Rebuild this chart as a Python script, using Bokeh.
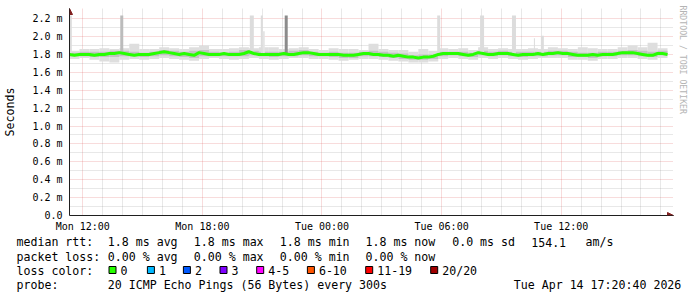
import numpy as np
from bokeh.plotting import figure
from bokeh.models import (Range1d, FixedTicker, CustomJSTickFormatter, Title,
                          Arrow, NormalHead)
from bokeh.embed import file_html
from bokeh.resources import INLINE
from bokeh.core.properties import value

MONO = "DejaVu Sans Mono"

# ---------------- data ----------------
# hours counted from Mon 00:00
start_hour = 11 + 20 / 60      # Mon 11:20
end_hour = 41 + 20 / 60        # Tue 17:20
y_top = 2.235                  # upper limit of the graph area (ms)

x_ticks = [12, 18, 24, 30, 36]
x_labels = ["Mon 12:00", "Mon 18:00", "Tue 00:00", "Tue 06:00", "Tue 12:00"]
x_minor = [13, 14, 15, 16, 17, 19, 20, 21, 22, 23, 25, 26, 27, 28, 29,
           31, 32, 33, 34, 35, 37, 38, 39, 40, 41]
y_ticks = [0.0, 0.2, 0.4, 0.6, 0.8, 1.0, 1.2, 1.4, 1.6, 1.8, 2.0, 2.2]
y_minor = [0.1, 0.3, 0.5, 0.7, 0.9, 1.1, 1.3, 1.5, 1.7, 1.9, 2.1]

# median rtt (ms), one sample every 15 minutes
median_ms = [
    1.80, 1.79, 1.80, 1.80, 1.80, 1.79, 1.80, 1.80, 1.81,
    1.81, 1.82, 1.81,
    1.80, 1.79, 1.80, 1.80, 1.80, 1.81,
    1.82, 1.83, 1.82,
    1.81, 1.80, 1.81, 1.80,
    1.79,
    1.82, 1.81, 1.80,
    1.80, 1.80, 1.81, 1.80, 1.80, 1.80, 1.81,
    1.83,
    1.81, 1.80, 1.80, 1.80, 1.80, 1.80, 1.81, 1.80, 1.80, 1.81,
    1.82, 1.82,
    1.81, 1.80, 1.80, 1.80, 1.80, 1.80,
    1.79, 1.79, 1.79, 1.80,
    1.81, 1.81, 1.80, 1.80,
    1.79, 1.79, 1.78, 1.79, 1.78,
    1.77, 1.77, 1.76, 1.77, 1.77, 1.78,
    1.80, 1.81, 1.81, 1.81, 1.81,
    1.80, 1.79, 1.80,
    1.82,
    1.81, 1.80, 1.80,
    1.81, 1.81, 1.81,
    1.80, 1.79, 1.80, 1.80, 1.80, 1.81, 1.80,
    1.81, 1.81, 1.82, 1.81, 1.81,
    1.80, 1.79, 1.79, 1.79, 1.80, 1.79,
    1.80, 1.80, 1.80,
    1.81, 1.82, 1.82, 1.82, 1.81,
    1.80, 1.79, 1.79,
    1.81, 1.81, 1.80,
]

# smoke (ping spread, ms), one value per 30 minutes
smoke_max = [1.84, 1.86, 1.86, 1.87, 1.86, 1.87, 1.92, 1.86, 1.86, 1.88,
             1.87, 1.86, 1.88, 1.90, 1.86, 1.86, 1.87, 1.88, 1.87, 1.88,
             1.88, 1.86, 1.87, 1.88, 1.86, 1.85, 1.87, 1.86, 1.86, 1.85,
             1.92, 1.86, 1.85, 1.85, 1.83, 1.86, 1.84, 1.87, 1.86, 1.87,
             1.85, 1.88, 1.86, 1.87, 1.86, 1.86, 1.87, 1.86, 1.88, 1.87,
             1.86, 1.88, 1.87, 1.86, 1.86, 1.88, 1.90, 1.88, 1.93, 1.87]
smoke_min = [1.75, 1.76, 1.74, 1.72, 1.71, 1.74, 1.75, 1.74, 1.75, 1.76,
             1.75, 1.74, 1.73, 1.75, 1.76, 1.75, 1.74, 1.75, 1.76, 1.75,
             1.74, 1.75, 1.76, 1.76, 1.75, 1.75, 1.74, 1.73, 1.74, 1.75,
             1.75, 1.74, 1.73, 1.72, 1.71, 1.71, 1.72, 1.75, 1.76, 1.75,
             1.74, 1.76, 1.75, 1.76, 1.75, 1.74, 1.75, 1.76, 1.76, 1.76,
             1.74, 1.74, 1.73, 1.75, 1.75, 1.76, 1.76, 1.75, 1.74, 1.76]
smoke_hi = [1.82, 1.83, 1.83, 1.83, 1.84, 1.84, 1.83, 1.82, 1.83, 1.85,
            1.84, 1.83, 1.84, 1.85, 1.83, 1.82, 1.83, 1.85, 1.84, 1.83,
            1.83, 1.83, 1.84, 1.85, 1.83, 1.82, 1.83, 1.82, 1.82, 1.83,
            1.84, 1.83, 1.82, 1.81, 1.79, 1.80, 1.80, 1.83, 1.83, 1.83,
            1.82, 1.84, 1.83, 1.84, 1.83, 1.83, 1.83, 1.83, 1.84, 1.84,
            1.83, 1.82, 1.82, 1.83, 1.83, 1.84, 1.85, 1.84, 1.83, 1.84]
smoke_lo = [1.78, 1.78, 1.77, 1.77, 1.77, 1.78, 1.78, 1.77, 1.78, 1.79,
            1.78, 1.77, 1.76, 1.78, 1.78, 1.78, 1.78, 1.78, 1.79, 1.78,
            1.77, 1.78, 1.78, 1.79, 1.78, 1.78, 1.77, 1.76, 1.76, 1.78,
            1.78, 1.77, 1.76, 1.75, 1.74, 1.74, 1.75, 1.78, 1.79, 1.78,
            1.77, 1.79, 1.78, 1.79, 1.78, 1.77, 1.78, 1.78, 1.79, 1.79,
            1.77, 1.77, 1.76, 1.78, 1.78, 1.79, 1.79, 1.78, 1.77, 1.79]

# isolated high pings (start hour, end hour, top ms, shade); 2.235 = off the graph
spike_start = [11.333, 13.88, 20.38, 20.93, 21.03, 22.13, 29.78, 31.93, 33.53, 34.63, 34.98]
spike_end = [11.45, 14.03, 20.58, 21.03, 21.13, 22.28, 29.93, 32.13, 33.73, 34.68, 35.13]
spike_top = [2.235, 2.235, 2.235, 2.235, 2.06, 2.235, 2.235, 2.235, 2.235, 1.98, 2.01]
spike_shade = ["#dcdcdc", "#bcbcbc", "#dcdcdc", "#dcdcdc", "#e4e4e4", "#8c8c8c",
               "#dcdcdc", "#dcdcdc", "#dcdcdc", "#dcdcdc", "#dcdcdc"]

# legend content
stat_median = ["1.8 ms avg", "1.8 ms max", "1.8 ms min", "1.8 ms now", "0.0 ms sd", "154.1", "am/s"]
stat_loss = ["0.00 % avg", "0.00 % max", "0.00 % min", "0.00 % now"]
loss_labels = ["0", "1", "2", "3", "4-5", "6-10", "11-19", "20/20"]
loss_colors = ["#26ff00", "#00b8ff", "#0059ff", "#7e00ff", "#ff00ff", "#ff5500", "#ff0000", "#a00000"]
probe_text = "20 ICMP Echo Pings (56 Bytes) every 300s"
stamp_text = "Tue Apr 14 17:20:40 2026"

# ---------------- main graph ----------------
W = 697
# frame extends 6 px right / 7 px up beyond the graph area for the axis arrows
x_end = end_hour + 6 / 20
y_end = y_top * 207 / 200
p = figure(width=W, height=235, output_backend="svg", toolbar_location=None,
           x_range=Range1d(start_hour, x_end), y_range=Range1d(0, y_end),
           min_border_left=67, min_border_right=24, min_border_top=8,
           min_border_bottom=20, background_fill_color="white",
           border_fill_color="white")
p.outline_line_color = None

med_t = start_hour + 0.25 * np.arange(len(median_ms))
sm_left = start_hour + 0.5 * np.arange(len(smoke_max))
sm_right = sm_left + 0.5

p.quad(left=sm_left, right=sm_right, bottom=smoke_min, top=smoke_max,
       fill_color="#dedede", line_color=None)
p.quad(left=sm_left, right=sm_right, bottom=smoke_lo, top=smoke_hi,
       fill_color="#c2c2c2", line_color=None)
p.quad(left=spike_start, right=spike_end, bottom=1.8, top=spike_top,
       fill_color=spike_shade, line_color=None)
p.line(med_t, median_ms, line_color="#26ff00", line_width=3)

# axes
for ax in (p.xaxis[0], p.yaxis[0]):
    ax.axis_line_color = "#1f1f1f"
    ax.major_tick_out = 0
    ax.major_tick_in = 0
    ax.minor_tick_out = 0
    ax.minor_tick_in = 0
    ax.major_label_text_font = MONO
    ax.major_label_text_font_size = "10px"
    ax.major_label_text_color = "black"

p.xaxis.ticker = FixedTicker(ticks=x_ticks, minor_ticks=x_minor)
p.xaxis.major_label_overrides = {t: l for t, l in zip(x_ticks, x_labels)}
p.xaxis.major_label_standoff = 5

p.yaxis.ticker = FixedTicker(ticks=y_ticks, minor_ticks=y_minor)
p.yaxis.formatter = CustomJSTickFormatter(
    code="return tick < 0.05 ? '0.0' : tick.toFixed(1) + ' m';")
p.yaxis.major_label_standoff = 7
p.yaxis.axis_label = "Seconds"
p.yaxis.axis_label_text_font = MONO
p.yaxis.axis_label_text_font_size = "11.6px"
p.yaxis.axis_label_text_font_style = "normal"
p.yaxis.axis_label_text_color = "black"
p.yaxis.axis_label_standoff = 12

# grid
for g in (p.xgrid[0], p.ygrid[0]):
    g.grid_line_color = "#de4f4f"
    g.grid_line_alpha = 0.4
    g.grid_line_dash = "1 1"
    g.minor_grid_line_color = "#8f8f8f"
    g.minor_grid_line_alpha = 0.4
    g.minor_grid_line_dash = "1 1"
p.xgrid.ticker = FixedTicker(ticks=x_ticks, minor_ticks=x_minor)
p.ygrid.ticker = FixedTicker(ticks=y_ticks, minor_ticks=y_minor)

# axis arrows
head = dict(size=6, fill_color="#801f1f", line_color="#801f1f")
p.add_layout(Arrow(end=NormalHead(**head), x_start=end_hour, y_start=0,
                   x_end=x_end, y_end=0, line_color="#1f1f1f", line_width=1))
p.add_layout(Arrow(end=NormalHead(**head), x_start=start_hour, y_start=y_top,
                   x_end=start_hour, y_end=y_end, line_color="#1f1f1f", line_width=1))

# watermark
p.add_layout(Title(text="RRDTOOL / TOBI OETIKER", text_font=MONO,
                   text_font_size="8.2px", text_color="#b4b4b4",
                   text_font_style="normal", align="left", standoff=9,
                   offset=-3), "right")

# ---------------- legend block ----------------
LH = 62
lg = figure(width=W, height=LH, output_backend="svg", toolbar_location=None,
            x_range=Range1d(0, W), y_range=Range1d(LH, 0),
            x_axis_location=None, y_axis_location=None,
            min_border=0, min_border_left=0, min_border_right=0,
            min_border_top=0, min_border_bottom=0,
            background_fill_color="white", border_fill_color="white")
lg.outline_line_color = None
lg.grid.visible = False

row_y = [6.8, 21.0, 35.2, 49.5]
med_x = [107.3, 193.3, 279.3, 365.0, 451.7, 530.7, 585.0]
loss_x = [107.3, 193.3, 279.3, 365.0]
box_left = [108.3, 146.7, 182.7, 219.3, 256.0, 306.7, 365.0, 430.0]

tx, ty, tt = [], [], []
tx += [16]; ty += [row_y[0]]; tt += ["median rtt:"]
tx += med_x; ty += [row_y[0]] * len(med_x); tt += stat_median
tx += [16]; ty += [row_y[1]]; tt += ["packet loss:"]
tx += loss_x; ty += [row_y[1]] * len(loss_x); tt += stat_loss
tx += [16]; ty += [row_y[2]]; tt += ["loss color:"]
tx += [b + 11.7 for b in box_left]; ty += [row_y[2]] * len(box_left); tt += loss_labels
tx += [16, 107.3, 513.3]; ty += [row_y[3]] * 3; tt += ["probe:", probe_text, stamp_text]

lg.text(x=tx, y=ty, text=tt, text_font=value(MONO), text_font_size="11.6px",
        text_baseline="alphabetic", text_align="left", text_color="black")
lg.rect(x=[b + 3.7 for b in box_left], y=34.5, width=7, height=7,
        fill_color=loss_colors, line_color="black", line_width=1)

open("out.html", "w").write(file_html([p, lg], INLINE))
